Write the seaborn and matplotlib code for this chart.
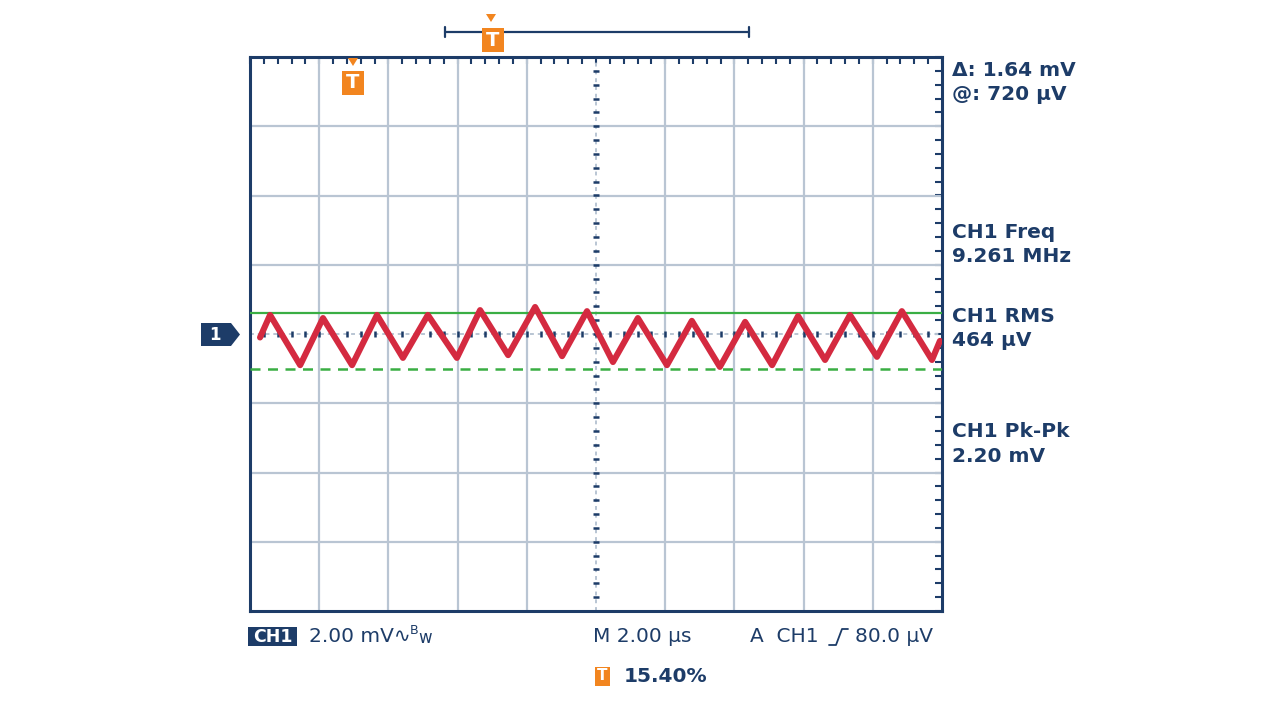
import numpy as np
import pandas as pd
import seaborn as sns
import matplotlib
matplotlib.use("Agg")
from matplotlib import pyplot as plt
from matplotlib.patches import Polygon, Rectangle
from matplotlib.lines import Line2D

# trace: time (us) and voltage (mV) at peaks/troughs
t_us = [0.29, 0.58, 1.45, 2.11, 2.95, 3.67, 4.42, 5.14, 5.98, 6.65, 7.46, 8.24, 9.02,
        9.74, 10.49, 11.21, 12.05, 12.77, 13.58, 14.31, 15.09, 15.84, 16.62, 17.34,
        18.12, 18.84, 19.71, 19.94]
v_mv = [-0.10, 0.55, -0.90, 0.46, -0.90, 0.55, -0.69, 0.55, -0.69, 0.69, -0.61, 0.78, -0.64,
        0.66, -0.81, 0.46, -0.90, 0.38, -0.95, 0.35, -0.90, 0.52, -0.75, 0.55,
        -0.66, 0.66, -0.75, -0.20]

cursor_hi = 0.62   # solid green cursor (mV)
cursor_lo = -1.02  # dashed green cursor (mV)

readouts = [("\u0394: 1.64 mV", "@: 720 \u00b5V"),
            ("CH1 Freq", "9.261 MHz"),
            ("CH1 RMS", "464 \u00b5V"),
            ("CH1 Pk-Pk", "2.20 mV")]
readout_y = [70, 232, 317, 432]

NAVY = "#1d3c68"
RED = "#d42a40"
GREEN = "#3aae44"
ORANGE = "#f2851f"
GRID = "#b9c5d3"

df = pd.DataFrame({"t": t_us, "v": v_mv})

sns.set_style("white")
plt.rcParams['font.family'] = ['DejaVu Sans']

W, H = 1280, 721
fig = plt.figure(figsize=(12.8, 7.21), dpi=100)


def px(x, y):
    return x / W, 1 - y / H


l, b = px(250, 611)
r, t = px(942, 57)
ax = fig.add_axes([l, b, r - l, t - b])
ax.set_xlim(0, 20)
ax.set_ylim(-8, 8)

xdiv = np.arange(0, 21, 2)
ydiv = np.arange(-8, 9, 2)
ax.vlines([x for x in xdiv[1:-1] if x != 10], -8, 8, color=GRID, lw=1.6, zorder=1)
ax.hlines([y for y in ydiv[1:-1] if y != 0], 0, 20, color=GRID, lw=1.6, zorder=1)
ax.axvline(10, color=GRID, lw=1.4, ls=(0, (2, 2)), zorder=1)
ax.axhline(0, color=GRID, lw=1.4, ls=(0, (2, 2)), zorder=1)

# minor tick marks along centre cross
xm = np.arange(0, 20.01, 0.4)
ym = np.arange(-8, 8.01, 0.4)
ax.plot(xm, np.zeros_like(xm), ls="none", marker="|", ms=4.5, mew=1.8, color=NAVY, zorder=2)
ax.plot(np.full_like(ym, 10), ym, ls="none", marker="_", ms=4.5, mew=1.8, color=NAVY, zorder=2)

ax.set_xticks(xm)
ax.set_yticks(ym)
ax.tick_params(axis="both", which="both", direction="in", length=5, width=1.5,
               color=NAVY, top=True, right=True, labelbottom=False, labelleft=False)
for s in ax.spines.values():
    s.set_color(NAVY)
    s.set_linewidth(2.2)

ax.axhline(cursor_hi, color=GREEN, lw=1.6, zorder=3)
ax.axhline(cursor_lo, color=GREEN, lw=1.8, ls=(0, (4, 3)), zorder=3)

sns.lineplot(data=df, x="t", y="v", color=RED, linewidth=4.4, ax=ax, zorder=4,
             solid_joinstyle="round", solid_capstyle="round")
ax.set_xlabel("")
ax.set_ylabel("")

# right-hand readouts
for (a, bb), y in zip(readouts, readout_y):
    fig.text(*px(952, y), a, color=NAVY, fontsize=14.5, fontweight="bold", va="center")
    fig.text(*px(952, y + 24), bb, color=NAVY, fontsize=14.5, fontweight="bold", va="center")


def tbox(xc, yc, w, h, fs):
    x0, y0 = px(xc - w / 2, yc + h / 2)
    fig.patches.append(Rectangle((x0, y0), w / W, h / H, transform=fig.transFigure,
                                 facecolor=ORANGE, edgecolor="none", zorder=5))
    fig.text(*px(xc, yc), "T", color="white", fontsize=fs, fontweight="bold",
             ha="center", va="center", zorder=6)


def tri(xc, yc, s):
    pts = [px(xc - s, yc - s * 0.8), px(xc + s, yc - s * 0.8), px(xc, yc + s * 0.8)]
    fig.patches.append(Polygon(pts, closed=True, transform=fig.transFigure,
                               facecolor=ORANGE, edgecolor="none", zorder=5))


# record indicator at top
fig.lines.append(Line2D([445 / W, 749 / W], [1 - 32 / H] * 2, transform=fig.transFigure,
                        color=NAVY, lw=1.6))
for xe in (445, 749):
    fig.lines.append(Line2D([xe / W] * 2, [1 - 27 / H, 1 - 37 / H], transform=fig.transFigure,
                            color=NAVY, lw=1.6))
tbox(493, 40, 22, 24, 14)
tri(491, 18, 5)
tbox(353, 83, 22, 24, 14)
tri(353, 62, 5)

# channel 1 ground marker
marker = [px(201, 323), px(231, 323), px(240, 334.5), px(231, 346), px(201, 346)]
fig.patches.append(Polygon(marker, closed=True, transform=fig.transFigure,
                           facecolor=NAVY, edgecolor="none"))
fig.text(*px(215, 335), "1", color="white", fontsize=12, fontweight="bold",
         ha="center", va="center")

# bottom status line
x0, y0 = px(248, 646)
fig.patches.append(Rectangle((x0, y0), 49 / W, 19 / H, transform=fig.transFigure,
                             facecolor=NAVY, edgecolor="none"))
fig.text(*px(272.5, 636.5), "CH1", color="white", fontsize=12.5, fontweight="bold",
         ha="center", va="center")
fig.text(*px(309, 636), "2.00 mV\u223f", color=NAVY, fontsize=14.5, va="center")
fig.text(*px(410, 630), "B", color=NAVY, fontsize=9, va="center")
fig.text(*px(418, 638), "w", color=NAVY, fontsize=12, va="center")
fig.text(*px(593, 636), "M 2.00 \u00b5s", color=NAVY, fontsize=14.5, va="center")
fig.text(*px(750, 636), "A  CH1", color=NAVY, fontsize=14.5, va="center")
edge = [(829, 645), (836, 645), (842, 629), (848, 629)]
fig.lines.append(Line2D([p[0] / W for p in edge], [1 - p[1] / H for p in edge],
                        transform=fig.transFigure, color=NAVY, lw=1.3))
fig.text(*px(855, 636), "80.0 \u00b5V", color=NAVY, fontsize=14.5, va="center")

tbox(602, 676, 15, 19, 11)
fig.text(*px(624, 677), "15.40%", color=NAVY, fontsize=14.5, fontweight="bold", va="center")

fig.savefig("out.png", dpi=100, facecolor="white")
